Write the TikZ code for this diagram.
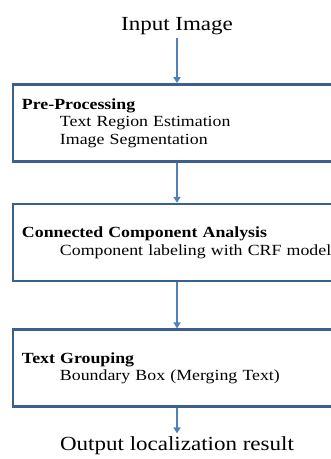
\documentclass[tikz,border=0pt]{standalone}
\usepackage{fontspec}
\setmainfont[FakeStretch=1.15]{Liberation Serif}
\usetikzlibrary{arrows.meta,positioning}
\definecolor{boxblue}{HTML}{3B5F8F}
\definecolor{arrowblue}{HTML}{4F81BD}

\begin{document}
\begin{tikzpicture}[
    x=1pt, y=-1pt,
    node distance=40pt,
    box/.style={draw=boxblue, line width=2.6pt, minimum width=328pt, minimum height=77pt,
                text width=310pt, align=left, font=\fontsize{15.5}{17.5}\selectfont},
    title/.style={font=\fontsize{20}{24}\selectfont},
    arrow/.style={-{Triangle[width=7pt,length=6pt]}, line width=1.8pt, color=arrowblue}
]
    \useasboundingbox (0,0) rectangle (331,459);
    \clip (0,0) rectangle (331,459);

    \node[title] (input) at (177,26) {Input Image};
    \node[box] (pre) at (177,123) {\textbf{Pre-Processing}\\
        \hspace*{38pt}Text Region Estimation\\
        \hspace*{38pt}Image Segmentation};
    \node[box, below=40pt of pre] (cca) {\textbf{Connected Component Analysis}\\
        \hspace*{38pt}Component labeling with CRF model};
    \node[box, below=46pt of cca] (group) {\textbf{Text Grouping}\\
        \hspace*{38pt}Boundary Box (Merging Text)};
    \node[title] (output) at (177,446) {Output localization result};

    \draw[arrow] (input) -- (pre);
    \draw[arrow] (pre) -- (cca);
    \draw[arrow] (cca) -- (group);
    \draw[arrow] (group) -- (output);
\end{tikzpicture}
\end{document}
